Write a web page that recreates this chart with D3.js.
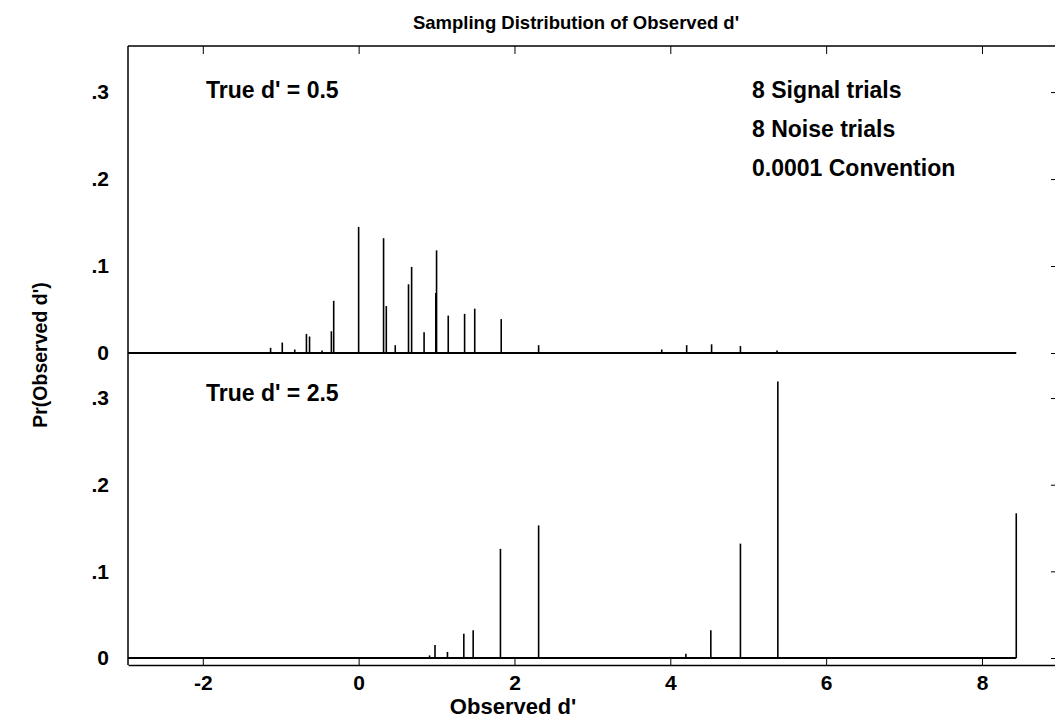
<!DOCTYPE html>
<html>
<head>
<meta charset="utf-8">
<script src="https://cdn.jsdelivr.net/npm/d3@7"></script>
<style>
  body { margin: 0; background: #fff; overflow: hidden; }
  text { font-family: "Liberation Sans", Arial, sans-serif; font-weight: bold; fill: #000; }
</style>
</head>
<body>
<div id="chart"></div>
<script>
// observed d' values and probabilities
const topDprime = [-1.13, -0.98, -0.82, -0.67, -0.63, -0.47, -0.35, -0.32, 0.0, 0.32, 0.355, 0.47, 0.64, 0.68, 0.84, 0.99, 1.0, 1.15, 1.36, 1.49, 1.83, 2.31, 3.89, 4.21, 4.53, 4.9, 5.37];
const topProb = [0.006, 0.012, 0.004, 0.022, 0.019, 0.003, 0.025, 0.06, 0.145, 0.132, 0.054, 0.009, 0.079, 0.099, 0.024, 0.069, 0.118, 0.043, 0.045, 0.051, 0.039, 0.009, 0.004, 0.009, 0.01, 0.008, 0.003];

const bottomDprime = [0.91, 0.98, 1.14, 1.35, 1.47, 1.82, 2.31, 4.2, 4.52, 4.9, 5.38, 8.44];
const bottomProb = [0.003, 0.015, 0.007, 0.028, 0.032, 0.126, 0.153, 0.005, 0.032, 0.132, 0.319, 0.167];

const xTicks = [-2, 0, 2, 4, 6, 8];
const yTicks = [0, 0.1, 0.2, 0.3];
const dRange = [-2.96, 8.44]; // extent of the plotted baseline
const notes = ['8 Signal trials', '8 Noise trials', '0.0001 Convention'];

const width = 1055, height = 720;
const m = { left: 128, right: 1056, top: 46, mid: 353, bottom: 658, axis: 665 };

const svg = d3.select('#chart').append('svg')
  .attr('width', width)
  .attr('height', height);

const x = d3.scaleLinear().domain([-2.96, 8.95]).range([m.left, m.right]);
const yTop = d3.scaleLinear().domain([0, 0.353]).range([m.mid, m.top]);
const yBot = d3.scaleLinear().domain([0, 0.352]).range([m.bottom, m.mid]);

const fmt = d => (d === 0 ? '0' : d3.format('.1f')(d).replace(/^0/, ''));

// frame: top and left lines
svg.append('line')
  .attr('x1', m.left).attr('x2', m.right).attr('y1', m.top).attr('y2', m.top)
  .attr('stroke', '#000').attr('stroke-width', 1.5);
svg.append('line')
  .attr('x1', m.left).attr('x2', m.left).attr('y1', m.top).attr('y2', m.axis)
  .attr('stroke', '#000').attr('stroke-width', 1.5);

// bottom x axis, ticks pointing up
const xAxis = svg.append('g')
  .attr('transform', `translate(0,${m.axis})`)
  .call(d3.axisBottom(x).tickValues(xTicks).tickSizeInner(-8).tickSizeOuter(0).tickPadding(10)
    .tickFormat(d => String(d)));
xAxis.select('.domain').attr('stroke-width', 1.5);
xAxis.selectAll('text').style('font-size', '21px').attr('font-family', null);

// top ticks, pointing down
const topAxis = svg.append('g')
  .attr('transform', `translate(0,${m.top})`)
  .call(d3.axisTop(x).tickValues(xTicks).tickSizeInner(-8).tickSizeOuter(0).tickFormat(''));
topAxis.select('.domain').remove();

// y labels for both panels, and right-side ticks
[yTop, yBot].forEach(y => {
  const g = svg.append('g')
    .attr('transform', `translate(${m.left},0)`)
    .call(d3.axisLeft(y).tickValues(yTicks).tickSize(0).tickPadding(19).tickFormat(fmt));
  g.select('.domain').remove();
  g.selectAll('text').style('font-size', '21px').attr('font-family', null);

  const r = svg.append('g')
    .attr('transform', `translate(${m.right},0)`)
    .call(d3.axisRight(y).tickValues(yTicks).tickSizeInner(-5).tickSizeOuter(0).tickFormat(''));
  r.select('.domain').remove();
});

// panels: baseline + spikes
const panels = [
  { y: yTop, d: topDprime, p: topProb },
  { y: yBot, d: bottomDprime, p: bottomProb },
];

panels.forEach(panel => {
  svg.append('path')
    .datum(dRange)
    .attr('fill', 'none')
    .attr('stroke', '#000')
    .attr('stroke-width', 2)
    .attr('d', d3.line().x(d => x(d)).y(() => panel.y(0)));

  svg.append('g')
    .selectAll('line')
    .data(panel.d.map((d, i) => ({ d, p: panel.p[i] })))
    .enter()
    .append('line')
    .attr('x1', d => x(d.d))
    .attr('x2', d => x(d.d))
    .attr('y1', panel.y(0))
    .attr('y2', d => panel.y(d.p))
    .attr('stroke', '#000')
    .attr('stroke-width', 1.6);
});

// texts
svg.append('text')
  .attr('x', 576).attr('y', 29)
  .attr('text-anchor', 'middle')
  .style('font-size', '18.5px')
  .text("Sampling Distribution of Observed d'");

svg.append('text')
  .attr('x', 206).attr('y', 98)
  .style('font-size', '23px')
  .text("True d' = 0.5");

svg.append('text')
  .attr('x', 206).attr('y', 401)
  .style('font-size', '23px')
  .text("True d' = 2.5");

notes.forEach((t, i) => {
  svg.append('text')
    .attr('x', 752).attr('y', 98 + i * 39)
    .style('font-size', '23px')
    .text(t);
});

svg.append('text')
  .attr('transform', `translate(47,355) rotate(-90)`)
  .attr('text-anchor', 'middle')
  .style('font-size', '19.5px')
  .text("Pr(Observed d')");

svg.append('text')
  .attr('x', 513).attr('y', 714)
  .attr('text-anchor', 'middle')
  .style('font-size', '22px')
  .text("Observed d'");
</script>
</body>
</html>
